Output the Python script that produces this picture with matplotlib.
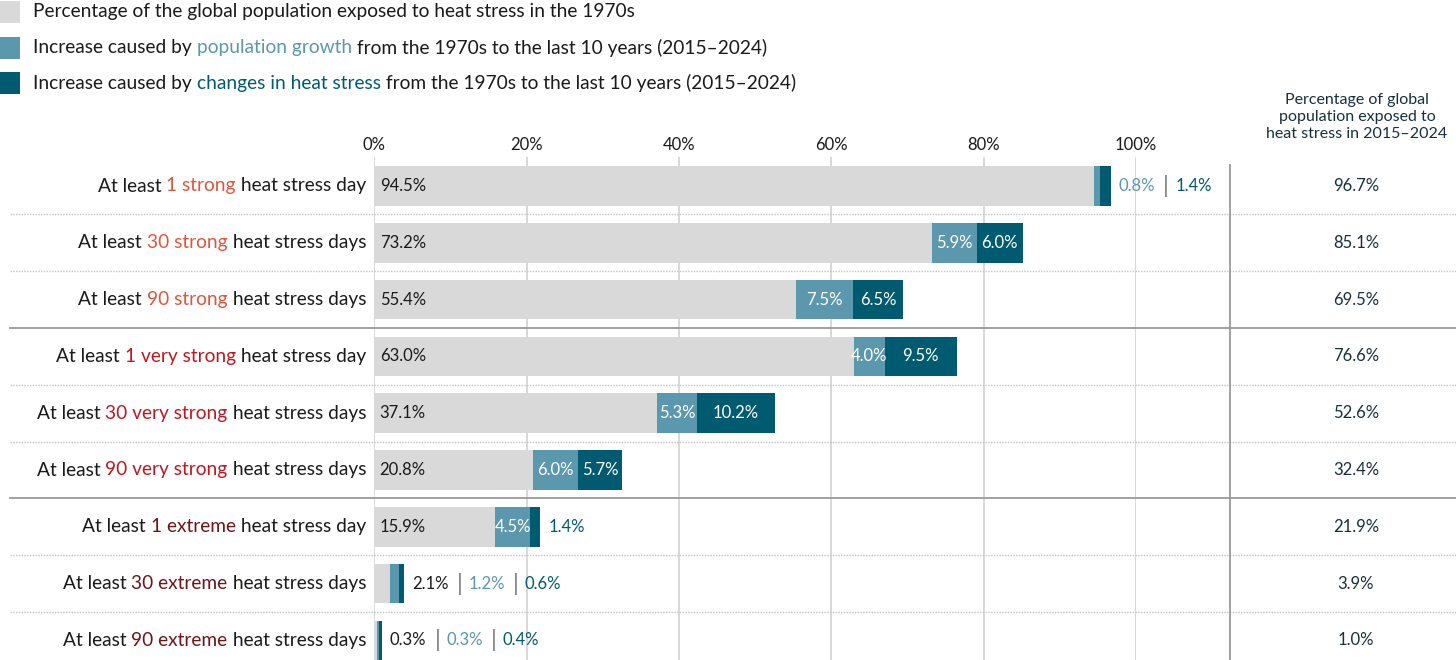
import matplotlib
matplotlib.use("Agg")
import matplotlib.pyplot as plt
from matplotlib.patches import Rectangle
from matplotlib.lines import Line2D
from matplotlib.transforms import blended_transform_factory

# ---------------- data ----------------
counts = ["1", "30", "90", "1", "30", "90", "1", "30", "90"]
levels = ["strong", "strong", "strong", "very strong", "very strong", "very strong",
          "extreme", "extreme", "extreme"]
suffix = ["day", "days", "days", "day", "days", "days", "day", "days", "days"]
base_1970s = [94.5, 73.2, 55.4, 63.0, 37.1, 20.8, 15.9, 2.1, 0.3]
pop_growth = [0.8, 5.9, 7.5, 4.0, 5.3, 6.0, 4.5, 1.2, 0.3]
heat_change = [1.4, 6.0, 6.5, 9.5, 10.2, 5.7, 1.4, 0.6, 0.4]
total_recent = [96.7, 85.1, 69.5, 76.6, 52.6, 32.4, 21.9, 3.9, 1.0]
xticks = [0, 20, 40, 60, 80, 100]
xtick_labels = ["0%", "20%", "40%", "60%", "80%", "100%"]

# ---------------- style ----------------
W, H = 1456, 660
FONT = ["Lato", "DejaVu Sans"]
plt.rcParams["font.family"] = FONT
C_BASE = "#d9d9d9"
C_POP = "#5b97ad"
C_HEAT = "#005b70"
C_TXT = "#1a1a1a"
C_NAVY = "#17303d"
level_color = {"strong": "#e2553c", "very strong": "#c4161f", "extreme": "#6e1519"}

fig = plt.figure(figsize=(W / 100, H / 100), dpi=100)
x0_px, x100_px, top_px = 374.3, 1136.0, 157
ax = fig.add_axes([x0_px / W, 0, (x100_px - x0_px) / W, (H - top_px) / H])
row_px0, row_step = 186, 56.8
ax.set_xlim(0, 100)
ax.set_ylim((H - row_px0) / row_step, (top_px - row_px0) / row_step)
for s in ax.spines.values():
    s.set_visible(False)
ax.set_yticks([])
ax.xaxis.tick_top()
ax.set_xticks(xticks)
ax.set_xticklabels(xtick_labels, fontsize=12, color=C_TXT)
ax.tick_params(axis="x", length=0, pad=3)
for xv in xticks:
    ax.axvline(xv, color="#d6d6d6", lw=1.3, zorder=0)

n = len(base_1970s)
ys = list(range(n))
bh = 0.70
left_pop = [b for b in base_1970s]
left_heat = [b + p for b, p in zip(base_1970s, pop_growth)]
ax.barh(ys, base_1970s, height=bh, color=C_BASE, zorder=2)
ax.barh(ys, pop_growth, left=left_pop, height=bh, color=C_POP, zorder=2)
ax.barh(ys, heat_change, left=left_heat, height=bh, color=C_HEAT, zorder=2)

VFS = 12
for i in ys:
    b, p, h = base_1970s[i], pop_growth[i], heat_change[i]
    outside = []
    if b >= 10:
        ax.text(0.7, i, f"{b:.1f}%", ha="left", va="center", fontsize=VFS, color=C_TXT, zorder=3)
    else:
        outside.append((f"{b:.1f}%", C_TXT))
    if p >= 3.5:
        ax.text(b + p / 2, i, f"{p:.1f}%", ha="center", va="center", fontsize=VFS, color="white", zorder=3)
    else:
        outside.append((f"{p:.1f}%", C_POP))
    if h >= 3.5:
        ax.text(b + p + h / 2, i, f"{h:.1f}%", ha="center", va="center", fontsize=VFS, color="white", zorder=3)
    else:
        outside.append((f"{h:.1f}%", C_HEAT))
    prev = None
    for k, (txt, col) in enumerate(outside):
        if prev is None:
            prev = ax.annotate(txt, xy=(b + p + h, i), xytext=(8, 0), textcoords="offset pixels",
                               ha="left", va="center", fontsize=VFS, color=col)
        else:
            sep = ax.annotate("|", xy=(1, 0.5), xycoords=prev, xytext=(8, 0),
                              textcoords="offset pixels", ha="left", va="center",
                              fontsize=VFS + 5, color="#7a7a7a")
            prev = ax.annotate(txt, xy=(1, 0.5), xycoords=sep, xytext=(6, 0),
                               textcoords="offset pixels", ha="left", va="center",
                               fontsize=VFS, color=col)

# row labels with coloured part
LFS = 13.8
for i in ys:
    parts = [("At least ", C_TXT), (f"{counts[i]} {levels[i]}", level_color[levels[i]]),
             (f" heat stress {suffix[i]}", C_TXT)]
    prev = ax.annotate(parts[2][0], xy=(366 / W, i), xycoords=("figure fraction", "data"),
                       ha="right", va="center", fontsize=LFS, color=parts[2][1], annotation_clip=False)
    for txt, col in parts[1::-1]:
        prev = ax.annotate(txt, xy=(0, 0.5), xycoords=prev, ha="right", va="center",
                           fontsize=LFS, color=col, annotation_clip=False)

# right column
for i in ys:
    ax.annotate(f"{total_recent[i]:.1f}%", xy=(1356 / W, i), xycoords=("figure fraction", "data"),
                ha="center", va="center", fontsize=VFS, color=C_NAVY, annotation_clip=False)
fig.text(1357 / W, 1 - 117 / H, "Percentage of global\npopulation exposed to\nheat stress in 2015\u20132024",
         ha="center", va="center", fontsize=11.5, color=C_NAVY, linespacing=1.3)

# separators
tr = blended_transform_factory(fig.transFigure, ax.transData)
group_sep = {2, 5}
for i in range(n - 1):
    yv = i + 0.5
    if i in group_sep:
        fig.add_artist(Line2D([10 / W, 1], [yv, yv], transform=tr, color="#9a9a9a", lw=1.3, zorder=5))
    else:
        fig.add_artist(Line2D([10 / W, 1], [yv, yv], transform=tr, color="#c4c4c4", lw=1.0,
                              linestyle=(0, (1, 1)), zorder=1))
fig.add_artist(Line2D([1230 / W, 1230 / W], [0, 1 - 165 / H], transform=fig.transFigure,
                      color="#9a9a9a", lw=1.3))

# legend
leg = [
    [("Percentage of the global population exposed to heat stress in the 1970s", C_TXT)],
    [("Increase caused by ", C_TXT), ("population growth", C_POP),
     (" from the 1970s to the last 10 years (2015\u20132024)", C_TXT)],
    [("Increase caused by ", C_TXT), ("changes in heat stress", C_HEAT),
     (" from the 1970s to the last 10 years (2015\u20132024)", C_TXT)],
]
sq_cols = [C_BASE, C_POP, C_HEAT]
leg_y = [12, 48, 83]
for k, items in enumerate(leg):
    yc = leg_y[k]
    fig.add_artist(Rectangle((0, 1 - (yc + 10.5) / H), 20 / W, 21 / H, transform=fig.transFigure,
                             facecolor=sq_cols[k], edgecolor="none"))
    prev = fig.text(33 / W, 1 - yc / H, items[0][0], ha="left", va="center", fontsize=LFS, color=items[0][1])
    for txt, col in items[1:]:
        prev = ax.annotate(txt, xy=(1, 0.5), xycoords=prev, ha="left", va="center",
                           fontsize=LFS, color=col, annotation_clip=False)

fig.savefig("out.png", dpi=100)
